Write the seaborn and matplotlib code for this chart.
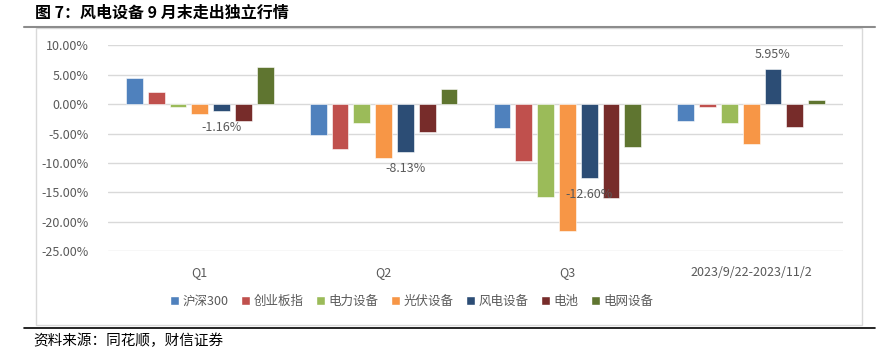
import pandas as pd
import matplotlib
matplotlib.use("Agg")
import matplotlib.pyplot as plt
import seaborn as sns
from matplotlib.ticker import FuncFormatter
from matplotlib.lines import Line2D
from matplotlib.patches import Rectangle

periods = ['Q1', 'Q2', 'Q3', '2023/9/22-2023/11/2']
series = ['沪深300', '创业板指', '电力设备', '光伏设备', '风电设备', '电池', '电网设备']
hs300 = [4.4, -5.3, -4.0, -2.8]
cyb = [2.1, -7.7, -9.6, -0.45]
dlsb = [-0.45, -3.2, -15.8, -3.2]
gfsb = [-1.7, -9.2, -21.6, -6.7]
fdsb = [-1.16, -8.13, -12.60, 5.95]
dc = [-2.8, -4.8, -15.9, -3.9]
dwsb = [6.3, 2.6, -7.3, 0.7]
colors = ['#4F81BD', '#C0504D', '#9BBB59', '#F79646', '#2C4D75', '#772C2A', '#5F7530']

rows = []
for name, vals in zip(series, [hs300, cyb, dlsb, gfsb, fdsb, dc, dwsb]):
    for p, v in zip(periods, vals):
        rows.append({'period': p, 'series': name, 'value': v})
df = pd.DataFrame(rows)

sns.set_style('white')
plt.rcParams['font.family'] = ['Noto Sans CJK SC', 'DejaVu Sans']
grey = '#595959'

fig = plt.figure(figsize=(8.9, 3.52), dpi=100)

# outer decoration: title rule, chart box, bottom rule
fig.add_artist(Line2D([24/890, 875/890], [1-27/352, 1-27/352], color='#8C8C8C', lw=1.5))
fig.add_artist(Rectangle((36/890, 1-325/352), (862-36)/890, (325-28)/352,
                         fill=False, edgecolor='#D9D9D9', lw=1))
fig.add_artist(Line2D([24/890, 875/890], [1-328/352, 1-328/352], color='black', lw=1.2))
fig.text(35/890, 1-13/352, '图 7：风电设备 9 月末走出独立行情', fontsize=11.5,
         fontweight='bold', va='center', ha='left', color='black')
fig.text(33/890, 1-341/352, '资料来源：同花顺，财信证券', fontsize=10.5,
         va='center', ha='left', color='black', style='italic')

ax = fig.add_axes([108/890, 1-251/352, (843-108)/890, (251-45.5)/352])
sns.barplot(data=df, x='period', y='value', hue='series', palette=colors,
            saturation=1, width=0.83, gap=0.23, edgecolor='white', linewidth=0.4,
            legend=False, ax=ax)

ax.set_ylim(-25, 10)
ax.set_yticks(range(-25, 11, 5))
ax.yaxis.set_major_formatter(FuncFormatter(lambda v, p: f'{v:.2f}%'))
ax.grid(axis='y', color='#D9D9D9', lw=1)
ax.set_axisbelow(True)
for s in ax.spines.values():
    s.set_visible(False)
ax.tick_params(axis='both', length=0, labelsize=9, labelcolor=grey)
ax.tick_params(axis='y', pad=14)
ax.tick_params(axis='x', pad=11)
ax.set_xlabel('')
ax.set_ylabel('')

# data labels on 风电设备
for patch, v in zip(ax.containers[4], fdsb):
    xc = patch.get_x() + patch.get_width() / 2
    off = 11 if v > 0 else -12
    ax.annotate(f'{v:.2f}%', (xc, v), xytext=(0, off), textcoords='offset points',
                ha='center', va='center', fontsize=9, color=grey)

handles = [Rectangle((0, 0), 1, 1, facecolor=c) for c in colors]
fig.legend(handles, series, loc='center', bbox_to_anchor=(412/890, 1-301/352), ncol=7,
           frameon=False, fontsize=9, labelcolor=grey, handlelength=0.7,
           handleheight=0.7, handletextpad=0.3, columnspacing=1.0)

fig.savefig('out.png', dpi=100)
